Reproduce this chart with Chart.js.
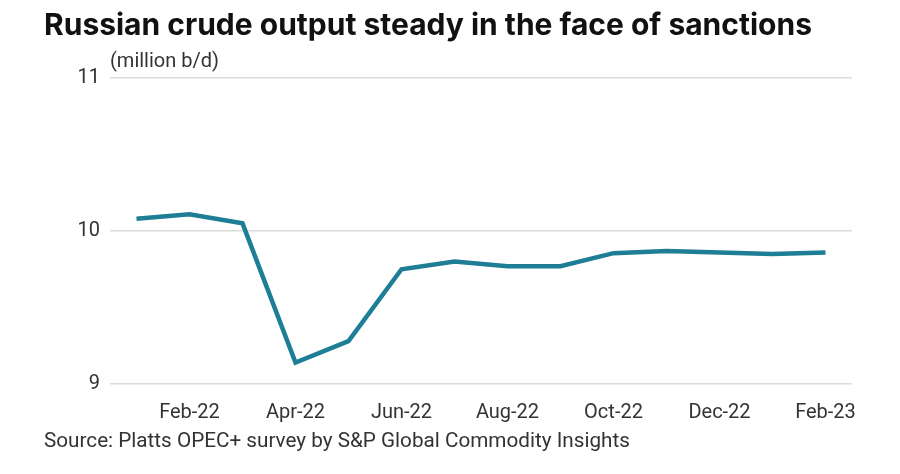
<!DOCTYPE html>
<html>
<head>
<meta charset="utf-8">
<script src="https://cdn.jsdelivr.net/npm/chart.js@4"></script>
<style>
  html, body { margin: 0; padding: 0; background: #fff; }
  #wrap { width: 900px; height: 474px; position: relative; }
</style>
</head>
<body>
<div id="wrap"><canvas id="crudeChart"></canvas></div>
<script>
// data
const months = ['Jan-22', 'Feb-22', 'Mar-22', 'Apr-22', 'May-22', 'Jun-22', 'Jul-22',
    'Aug-22', 'Sep-22', 'Oct-22', 'Nov-22', 'Dec-22', 'Jan-23', 'Feb-23'];
const output = [10.08, 10.11, 10.05, 9.14, 9.28, 9.75, 9.80, 9.77, 9.77, 9.855, 9.87, 9.86, 9.85, 9.86];
const yTicks = [9, 10, 11];

//color
const lineTeal = '#1e7e96';
const gridGray = '#dcdcdc';
const textGray = '#333333';
const labelFont = 'Roboto, sans-serif';

// title, unit label and source drawn on the canvas
const captions = {
    id: 'captions',
    afterDraw(chart) {
        const { ctx } = chart;
        ctx.save();
        ctx.textBaseline = 'alphabetic';
        ctx.textAlign = 'left';
        ctx.fillStyle = '#111';
        ctx.font = `bold 30px Inter, sans-serif`;
        ctx.fillText('Russian crude output steady in the face of sanctions', 44, 35);
        ctx.fillStyle = textGray;
        ctx.font = `20px ${labelFont}`;
        ctx.fillText('(million b/d)', 110, 67);
        ctx.font = `20.7px ${labelFont}`;
        ctx.fillText('Source: Platts OPEC+ survey by S&P Global Commodity Insights', 44, 447);
        ctx.restore();
    }
};

const ctx = document.getElementById('crudeChart');

const crudeChart = new Chart(ctx, {
    type: 'line',
    data: {
        labels: months,
        datasets: [{
            data: output,
            borderColor: lineTeal,
            borderWidth: 4.5,
            pointRadius: 0,
            tension: 0,
            fill: false,
        }]
    },
    options: {
        responsive: true,
        maintainAspectRatio: false,
        animation: false,
        layout: {
            padding: { top: 78, left: 44, right: 48, bottom: 50 }
        },
        scales: {
            x: {
                offset: true,
                grid: { display: false },
                border: { display: false },
                ticks: {
                    autoSkip: false,
                    maxRotation: 0,
                    padding: 9,
                    color: textGray,
                    font: { family: labelFont, size: 20 },
                    callback: (val, i) => (i % 2 === 1 ? months[i] : '')
                },
                afterFit: (scale) => { scale.height = 40; }
            },
            y: {
                min: 9,
                max: 11,
                afterBuildTicks: (scale) => { scale.ticks = yTicks.map(v => ({ value: v })); },
                grid: { color: gridGray, lineWidth: 1.5, drawTicks: false },
                border: { display: false },
                ticks: {
                    padding: 10,
                    color: textGray,
                    font: { family: labelFont, size: 20 }
                },
                afterFit: (scale) => { scale.width = 66; }
            }
        },
        plugins: {
            legend: { display: false },
            tooltip: { enabled: false }
        }
    },
    plugins: [captions]
});
</script>
</body>
</html>
